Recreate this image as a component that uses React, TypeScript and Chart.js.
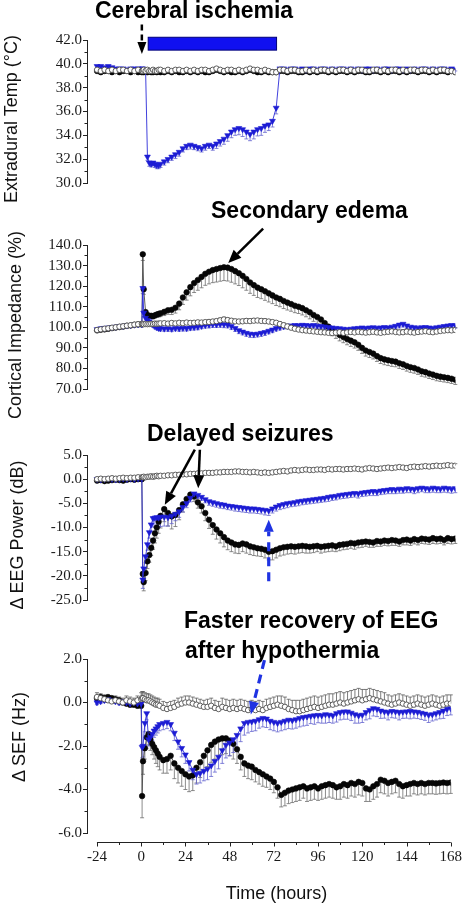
import React, { useEffect, useRef } from "react";
import { Chart, registerables } from "chart.js";

Chart.register(...registerables);

// ---------------- data ----------------
const hours = [
  -24, -22, -20, -18, -16, -14, -12, -10, -8, -6, -4, -2,
  0, 0.5, 1, 2, 3, 4, 5, 6, 7, 8, 9, 10,
  12, 14, 16, 18, 20, 22, 24, 26, 28, 30,
  32, 34, 36, 38, 40, 42, 44, 46, 48, 50,
  52, 54, 56, 58, 60, 62, 64, 66, 68, 70,
  72, 74, 76, 78, 80, 82, 84, 86, 88, 90,
  92, 94, 96, 98, 100, 102, 104, 106, 108, 110,
  112, 114, 116, 118, 120, 122, 124, 126, 128, 130,
  132, 134, 136, 138, 140, 142, 144, 146, 148, 150,
  152, 154, 156, 158, 160, 162, 164, 166, 168,
];

const timeTicks = [-24, 0, 24, 48, 72, 96, 120, 144, 168];
const tempTicks = [30, 32, 34, 36, 38, 40, 42];
const impTicks = [70, 80, 90, 100, 110, 120, 130, 140];
const eegTicks = [-25, -20, -15, -10, -5, 0, 5];
const sefTicks = [-6, -4, -2, 0, 2];

// Extradural temperature (°C)
const tempNormo = [
  39.4, 39.3, 39.4, 39.4, 39.3, 39.4, 39.3, 39.4, 39.4, 39.3, 39.4, 39.3,
  39.3, 39.4, 39.3, 39.4, 39.3, 39.4, 39.3, 39.3, 39.4, 39.3, 39.4, 39.3,
  39.3, 39.4, 39.3, 39.4, 39.3, 39.3, 39.4, 39.3, 39.4, 39.3,
  39.4, 39.3, 39.3, 39.4, 39.5, 39.4, 39.3, 39.4, 39.3, 39.3,
  39.4, 39.3, 39.4, 39.5, 39.4, 39.3, 39.3, 39.4, 39.3, 39.3,
  39.3, 39.4, 39.4, 39.3, 39.4, 39.4, 39.3, 39.3, 39.4, 39.3,
  39.4, 39.3, 39.4, 39.4, 39.3, 39.4, 39.3, 39.4, 39.4, 39.3,
  39.4, 39.3, 39.4, 39.4, 39.3, 39.3, 39.4, 39.4, 39.3, 39.4,
  39.3, 39.4, 39.4, 39.3, 39.4, 39.3, 39.4, 39.4, 39.3, 39.4,
  39.4, 39.3, 39.4, 39.3, 39.4, 39.4, 39.3, 39.4, 39.3,
];
const tempHypo = [
  39.8, 39.8, 39.7, 39.8, 39.7, 39.6, 39.6, 39.6, 39.5, 39.6, 39.6, 39.6,
  39.6, 39.6, 39.5, 39.5, 32.2, 31.7, 31.6, 31.7, 31.6, 31.5, 31.5, 31.6,
  31.8, 32.0, 32.2, 32.4, 32.6, 32.9, 33.1, 33.2, 33.1, 33.0,
  32.9, 33.1, 33.2, 33.1, 33.3, 33.5, 33.7, 34.0, 34.3, 34.5,
  34.6, 34.5, 34.3, 34.1, 34.3, 34.5, 34.6, 34.8, 34.9, 35.2,
  36.3, 39.6, 39.6, 39.5, 39.6, 39.6, 39.5, 39.6, 39.5, 39.6,
  39.6, 39.5, 39.6, 39.6, 39.5, 39.6, 39.5, 39.6, 39.6, 39.5,
  39.6, 39.5, 39.6, 39.5, 39.6, 39.6, 39.5, 39.6, 39.5, 39.6,
  39.6, 39.5, 39.6, 39.6, 39.5, 39.6, 39.5, 39.6, 39.5, 39.6,
  39.6, 39.5, 39.6, 39.5, 39.6, 39.6, 39.5, 39.6, 39.5,
];
const tempSham = [
  39.5, 39.4, 39.5, 39.4, 39.5, 39.4, 39.5, 39.5, 39.4, 39.5, 39.4, 39.5,
  39.4, 39.4, 39.5, 39.4, 39.5, 39.4, 39.4, 39.5, 39.4, 39.4, 39.5, 39.5,
  39.4, 39.5, 39.4, 39.5, 39.5, 39.4, 39.5, 39.4, 39.5, 39.4,
  39.5, 39.5, 39.4, 39.5, 39.6, 39.5, 39.4, 39.5, 39.5, 39.4,
  39.5, 39.4, 39.5, 39.6, 39.5, 39.5, 39.4, 39.5, 39.4, 39.3,
  39.3, 39.5, 39.5, 39.4, 39.5, 39.5, 39.4, 39.4, 39.5, 39.4,
  39.5, 39.4, 39.5, 39.5, 39.4, 39.5, 39.4, 39.5, 39.5, 39.4,
  39.5, 39.4, 39.5, 39.5, 39.4, 39.4, 39.5, 39.5, 39.4, 39.5,
  39.4, 39.5, 39.5, 39.4, 39.5, 39.4, 39.5, 39.5, 39.4, 39.5,
  39.5, 39.4, 39.5, 39.4, 39.5, 39.5, 39.4, 39.4, 39.3,
];
const tempHypoErr = [
  0.1, 0.1, 0.1, 0.1, 0.1, 0.1, 0.1, 0.1, 0.1, 0.1, 0.1, 0.1,
  0.1, 0.1, 0.1, 0.1, 0.3, 0.3, 0.25, 0.25, 0.3, 0.3, 0.3, 0.3,
  0.3, 0.3, 0.3, 0.35, 0.35, 0.3, 0.3, 0.35, 0.3, 0.3,
  0.3, 0.35, 0.3, 0.35, 0.4, 0.4, 0.45, 0.5, 0.5, 0.5,
  0.55, 0.6, 0.6, 0.55, 0.6, 0.55, 0.6, 0.55, 0.5, 0.5,
  0.5, 0.1, 0.1, 0.1, 0.1, 0.1, 0.1, 0.1, 0.1, 0.1,
  0.1, 0.1, 0.1, 0.1, 0.1, 0.1, 0.1, 0.1, 0.1, 0.1,
  0.1, 0.1, 0.1, 0.1, 0.1, 0.1, 0.1, 0.1, 0.1, 0.1,
  0.1, 0.1, 0.1, 0.1, 0.1, 0.1, 0.1, 0.1, 0.1, 0.1,
  0.1, 0.1, 0.1, 0.1, 0.1, 0.1, 0.1, 0.1, 0.1,
];

// Cortical impedance (%)
const impNormo = [
  98.5, 98.8, 99.0, 99.3, 99.6, 99.9, 100.1, 100.4, 100.7, 100.9, 101.2, 101.4,
  101.4, 135.5, 118.5, 107.4, 106.0, 105.5, 105.6, 105.4, 105.8, 106.2, 106.5, 106.8,
  107.5, 108.3, 108.5, 109.5, 111.5, 114.5, 117.0, 119.5, 121.5, 123.0,
  124.5, 126.0, 127.0, 127.8, 128.3, 128.8, 129.2, 129.0, 128.3, 127.3,
  126.3, 125.0, 123.5, 121.8, 120.5, 119.3, 118.5, 117.5, 116.5, 115.5,
  114.5, 113.8, 112.8, 112.0, 111.3, 110.5, 110.0, 109.3, 108.3, 107.3,
  106.0, 105.0, 103.8, 102.0, 100.3, 98.8, 97.5, 96.3, 95.3, 94.3,
  93.5, 92.7, 91.5, 90.0, 88.7, 88.0, 87.2, 86.0, 85.0, 84.4,
  84.0, 83.6, 83.3, 82.5, 82.0, 81.2, 80.6, 80.2, 79.5, 78.6,
  78.2, 77.5, 77.0, 76.4, 76.0, 75.7, 75.4, 75.0, 74.5,
];
const impHypo = [
  99.0, 99.4, 99.6, 99.8, 100.0, 100.2, 100.4, 100.6, 100.8, 101.0, 101.2, 101.4,
  101.4, 119.0, 107.0, 104.5, 103.5, 102.8, 102.0, 101.2, 100.5, 100.0, 99.6, 99.4,
  99.3, 99.4, 99.2, 99.5, 99.4, 99.6, 99.5, 99.8, 100.0, 100.2,
  100.6, 101.0, 101.2, 101.4, 101.3, 101.5, 101.4, 101.2, 100.5, 99.5,
  98.5, 97.8, 97.2, 96.8, 96.6, 96.8, 97.2, 97.6, 98.2, 98.8,
  99.5, 100.0, 100.4, 100.6, 100.8, 101.0, 100.9, 101.1, 101.0, 100.8,
  101.0, 100.7, 100.5, 100.3, 100.0, 99.8, 99.6, 99.4, 99.2, 99.0,
  99.2, 99.4, 99.6, 99.8, 99.6, 99.8, 99.9, 99.7, 99.8, 100.0,
  99.8, 100.2, 100.6, 101.2, 101.6, 100.8, 100.2, 99.9, 99.7, 99.9,
  100.0, 99.8, 99.6, 99.9, 100.2, 100.5, 100.8, 101.0, 100.9,
];
const impSham = [
  98.7, 99.0, 99.3, 99.5, 99.8, 100.0, 100.3, 100.5, 100.8, 101.0, 101.3, 101.5,
  101.7, 101.6, 101.5, 101.6, 101.5, 101.6, 101.7, 101.6, 101.8, 101.7, 101.8, 101.9,
  102.0, 101.8, 102.1, 101.9, 102.2, 102.0, 102.3, 102.1, 102.2, 102.4,
  102.3, 102.5, 102.6, 102.8, 103.0, 103.4, 103.8, 103.5, 103.2, 102.9,
  102.8, 102.9, 103.1, 103.0, 103.2, 103.3, 103.1, 103.0, 102.8, 102.5,
  102.2, 101.6, 101.0, 100.4, 99.8, 99.3, 98.9, 98.6, 98.4, 98.2,
  98.0, 97.8, 97.6, 97.5, 97.3, 97.2, 97.4, 97.6, 97.3, 97.5,
  97.7, 97.5, 97.8, 97.6, 97.4, 97.6, 97.8, 97.5, 97.3, 97.6,
  97.8, 98.0, 97.7, 97.5, 97.6, 97.9, 97.6, 97.4, 97.7, 97.9,
  98.1, 97.8, 97.6, 97.9, 98.2, 98.4, 98.6, 98.5, 98.7,
];
const impNormoErr = [
  0.8, 0.8, 0.8, 0.8, 0.8, 0.8, 0.8, 0.8, 0.8, 0.8, 0.8, 0.8,
  0.8, 3.0, 2.5, 1.5, 1.2, 1.2, 1.2, 1.3, 1.3, 1.4, 1.5, 1.6,
  1.8, 2.0, 2.3, 2.6, 3.0, 3.4, 3.8, 4.2, 4.6, 5.0,
  5.3, 5.6, 5.9, 6.1, 6.3, 6.4, 6.5, 6.5, 6.4, 6.2,
  6.0, 5.8, 5.5, 5.3, 5.0, 4.8, 4.6, 4.4, 4.2, 4.0,
  3.9, 3.8, 3.7, 3.6, 3.5, 3.4, 3.3, 3.3, 3.2, 3.2,
  3.1, 3.1, 3.0, 3.0, 3.0, 2.9, 2.9, 2.9, 2.8, 2.8,
  2.8, 2.8, 2.7, 2.7, 2.7, 2.7, 2.6, 2.6, 2.6, 2.6,
  2.6, 2.6, 2.5, 2.5, 2.5, 2.5, 2.5, 2.5, 2.4, 2.4,
  2.4, 2.4, 2.4, 2.4, 2.3, 2.3, 2.3, 2.3, 2.3,
];
const impHypoErr = [
  0.6, 0.6, 0.6, 0.6, 0.6, 0.6, 0.6, 0.6, 0.6, 0.6, 0.6, 0.6,
  0.6, 2.5, 2.0, 1.5, 1.2, 1.2, 1.2, 1.2, 1.2, 1.2, 1.2, 1.2,
  1.2, 1.3, 1.3, 1.2, 1.3, 1.4, 1.3, 1.2, 1.3, 1.4,
  1.3, 1.4, 1.5, 1.5, 1.4, 1.5, 1.6, 1.5, 1.6, 1.5,
  1.6, 1.5, 1.6, 1.7, 1.6, 1.5, 1.6, 1.5, 1.4, 1.4,
  1.3, 1.3, 1.2, 1.3, 1.2, 1.3, 1.2, 1.3, 1.2, 1.2,
  1.2, 1.3, 1.2, 1.2, 1.3, 1.2, 1.2, 1.3, 1.2, 1.2,
  1.3, 1.2, 1.2, 1.3, 1.2, 1.3, 1.2, 1.2, 1.3, 1.2,
  1.2, 1.3, 1.4, 1.5, 1.4, 1.3, 1.2, 1.3, 1.2, 1.3,
  1.2, 1.3, 1.2, 1.3, 1.2, 1.3, 1.2, 1.3, 1.3,
];
const impShamErr = [
  0.5, 0.5, 0.5, 0.5, 0.5, 0.5, 0.5, 0.5, 0.5, 0.5, 0.5, 0.5,
  0.6, 0.6, 0.6, 0.6, 0.6, 0.6, 0.6, 0.6, 0.6, 0.6, 0.6, 0.6,
  0.7, 0.7, 0.8, 0.7, 0.8, 0.8, 0.8, 0.9, 0.8, 0.9,
  0.9, 0.9, 1.0, 1.0, 1.0, 1.1, 1.1, 1.0, 1.0, 1.0,
  1.0, 1.0, 1.1, 1.0, 1.1, 1.0, 1.0, 1.0, 1.0, 1.0,
  1.0, 1.0, 1.1, 1.1, 1.0, 1.0, 1.1, 1.0, 1.0, 1.0,
  1.0, 1.1, 1.0, 1.0, 1.1, 1.0, 1.0, 1.1, 1.0, 1.0,
  1.1, 1.0, 1.1, 1.2, 1.1, 1.0, 1.1, 1.2, 1.1, 1.1,
  1.2, 1.1, 1.2, 1.1, 1.3, 1.2, 1.1, 1.2, 1.1, 1.2,
  1.1, 1.2, 1.1, 1.2, 1.1, 1.2, 1.1, 1.2, 1.1,
];

// Change in EEG power (dB)
const eegNormo = [
  -0.3, -0.2, -0.4, -0.3, -0.2, -0.1, -0.2, -0.3, -0.1, 0.0, -0.1, 0.0,
  0.0, -19.6, -21.3, -19.4, -17.0, -15.7, -14.2, -12.7, -11.2, -10.0, -8.8, -7.6,
  -6.2, -7.0, -7.7, -7.4, -6.4, -5.2, -4.1, -3.2, -3.6, -4.8,
  -5.6, -7.0, -8.4, -9.5, -10.4, -11.2, -12.0, -12.7, -13.1, -13.5,
  -13.6, -13.3, -13.5, -13.9, -14.1, -14.3, -14.4, -14.6, -15.0, -14.9,
  -14.6, -14.3, -14.1, -14.0, -13.9, -14.0, -13.9, -13.8, -13.9, -14.0,
  -13.9, -13.8, -14.0, -13.9, -13.8, -13.7, -13.9, -13.6, -13.5, -13.4,
  -13.2, -13.3, -13.1, -13.0, -12.9, -13.0, -13.1, -12.8, -12.9, -12.7,
  -12.8, -12.6, -12.7, -12.9, -12.6, -12.5, -12.7, -12.4, -12.6, -12.3,
  -12.4, -12.5, -12.2, -12.4, -12.3, -12.6, -12.2, -12.4, -12.3,
];
const eegHypo = [
  0.0, -0.1, 0.0, 0.1, 0.0, -0.1, 0.0, 0.1, 0.0, 0.1, 0.0, 0.1,
  0.1, -20.8, -18.5, -16.0, -13.5, -11.0, -9.4, -8.1, -8.0, -7.9, -8.0, -7.8,
  -7.8, -7.9, -7.6, -7.2, -6.7, -5.8, -5.0, -3.9, -3.0, -3.3,
  -3.7, -4.2, -4.6, -4.8, -5.0, -5.2, -5.3, -5.5, -5.6, -5.7,
  -5.8, -5.9, -6.0, -6.1, -6.1, -6.2, -6.3, -6.4, -6.5, -6.1,
  -5.7, -5.4, -5.2, -5.0, -4.9, -4.8, -4.6, -4.5, -4.4, -4.3,
  -4.2, -4.1, -4.0, -3.9, -3.7, -3.6, -3.5, -3.3, -3.2, -3.1,
  -3.0, -2.9, -3.0, -2.8, -2.7, -2.6, -2.5, -2.6, -2.4, -2.3,
  -2.2, -2.1, -2.2, -2.0, -2.1, -1.9, -2.0, -2.1, -1.9, -1.8,
  -1.9, -2.0, -1.8, -1.9, -2.0, -1.8, -1.9, -2.0, -1.9,
];
const eegSham = [
  0.0, 0.1, 0.0, 0.1, 0.2, 0.1, 0.2, 0.3, 0.2, 0.3, 0.3, 0.4,
  0.4, 0.4, 0.5, 0.4, 0.5, 0.5, 0.6, 0.5, 0.6, 0.7, 0.6, 0.7,
  0.7, 0.8, 0.8, 0.9, 0.9, 1.0, 1.0, 1.1, 1.1, 1.2,
  1.2, 1.3, 1.3, 1.3, 1.4, 1.4, 1.5, 1.5, 1.5, 1.6,
  1.6, 1.5, 1.5, 1.4, 1.5, 1.4, 1.3, 1.4, 1.3, 1.4,
  1.5, 1.6, 1.7, 1.6, 1.8, 1.9, 1.8, 1.9, 2.0, 1.9,
  1.9, 2.0, 2.0, 1.9, 2.1, 2.0, 2.1, 2.1, 2.0, 2.1,
  2.1, 2.2, 2.1, 2.0, 2.2, 2.3, 2.2, 2.1, 2.2, 2.3,
  2.4, 2.3, 2.4, 2.5, 2.4, 2.3, 2.5, 2.6, 2.5, 2.6,
  2.7, 2.6, 2.7, 2.8, 2.7, 2.8, 2.9, 2.8, 2.8,
];
const eegNormoErr = [
  0.3, 0.3, 0.3, 0.3, 0.3, 0.3, 0.3, 0.3, 0.3, 0.3, 0.3, 0.3,
  0.3, 1.5, 1.8, 1.6, 1.5, 1.5, 1.6, 1.8, 2.0, 2.2, 2.4, 2.5,
  2.6, 2.7, 2.6, 2.4, 2.0, 1.6, 1.2, 1.0, 1.0, 1.2,
  1.4, 1.6, 1.8, 1.9, 2.0, 2.0, 2.0, 1.9, 1.9, 1.8,
  1.8, 1.7, 1.8, 1.7, 1.7, 1.6, 1.6, 1.7, 1.7, 1.8,
  1.7, 1.6, 1.6, 1.5, 1.5, 1.5, 1.4, 1.4, 1.4, 1.3,
  1.3, 1.2, 1.3, 1.2, 1.2, 1.2, 1.1, 1.2, 1.1, 1.1,
  1.1, 1.2, 1.1, 1.1, 1.0, 1.1, 1.0, 1.1, 1.0, 1.0,
  1.0, 1.1, 1.0, 1.0, 1.0, 1.1, 1.0, 1.0, 1.0, 1.0,
  1.0, 1.0, 1.1, 1.0, 1.0, 1.0, 1.1, 1.0, 1.0,
];
const eegHypoErr = [
  0.3, 0.3, 0.3, 0.3, 0.3, 0.3, 0.3, 0.3, 0.3, 0.3, 0.3, 0.3,
  0.3, 1.8, 1.5, 1.3, 1.2, 1.2, 1.5, 1.8, 1.9, 2.0, 2.0, 2.0,
  1.9, 1.8, 1.6, 1.4, 1.2, 1.0, 0.9, 0.8, 0.7, 0.7,
  0.7, 0.7, 0.8, 0.8, 0.8, 0.8, 0.8, 0.8, 0.8, 0.9,
  0.9, 0.9, 0.9, 0.9, 0.9, 0.9, 0.9, 1.0, 1.0, 0.9,
  0.9, 0.9, 0.9, 0.9, 0.8, 0.8, 0.9, 0.8, 0.8, 0.8,
  0.8, 0.8, 0.8, 0.8, 0.9, 0.8, 0.8, 0.8, 0.8, 0.8,
  0.8, 0.8, 0.9, 0.8, 0.8, 0.8, 0.9, 0.8, 0.8, 0.8,
  0.8, 0.9, 0.8, 0.9, 0.8, 0.9, 0.8, 0.9, 0.9, 0.8,
  0.9, 0.8, 0.9, 0.9, 0.8, 0.9, 0.9, 0.9, 0.9,
];
const eegShamErr = [
  0.3, 0.3, 0.3, 0.3, 0.3, 0.3, 0.3, 0.3, 0.3, 0.3, 0.3, 0.3,
  0.3, 0.3, 0.3, 0.3, 0.3, 0.3, 0.3, 0.3, 0.3, 0.3, 0.3, 0.3,
  0.3, 0.3, 0.3, 0.3, 0.3, 0.3, 0.3, 0.3, 0.3, 0.3,
  0.3, 0.3, 0.3, 0.3, 0.3, 0.3, 0.3, 0.3, 0.3, 0.3,
  0.3, 0.3, 0.3, 0.3, 0.3, 0.3, 0.3, 0.3, 0.3, 0.3,
  0.3, 0.3, 0.4, 0.3, 0.3, 0.4, 0.3, 0.3, 0.4, 0.3,
  0.4, 0.3, 0.3, 0.4, 0.3, 0.4, 0.3, 0.4, 0.3, 0.4,
  0.3, 0.4, 0.4, 0.3, 0.4, 0.3, 0.4, 0.4, 0.3, 0.4,
  0.4, 0.3, 0.4, 0.4, 0.3, 0.4, 0.4, 0.3, 0.4, 0.4,
  0.4, 0.3, 0.4, 0.4, 0.3, 0.4, 0.4, 0.3, 0.4,
];

// Change in spectral edge frequency (Hz)
const sefNormo = [
  0.2, 0.25, 0.2, 0.25, 0.2, 0.15, 0.1, 0.0, -0.05, -0.1, -0.1, -0.15,
  -0.15, -4.3, -2.7, -2.1, -1.6, -1.45, -1.7, -1.9, -2.05, -2.2, -2.35, -2.5,
  -2.65, -2.6, -2.45, -2.8, -3.0, -3.15, -3.3, -3.4, -3.35, -3.0,
  -2.75, -2.45, -2.2, -1.95, -1.8, -1.7, -1.65, -1.65, -1.75, -1.9,
  -2.15, -2.5, -2.8, -2.9, -2.95, -3.1, -3.2, -3.3, -3.4, -3.5,
  -3.65, -3.9, -4.25, -4.15, -4.05, -4.0, -3.95, -3.9, -3.85, -3.95,
  -3.9, -3.85, -3.95, -3.85, -3.8, -3.75, -3.8, -3.9, -3.85, -3.75,
  -3.8, -3.7, -3.75, -3.65, -3.7, -3.95, -4.0, -3.85, -3.75, -3.55,
  -3.6, -3.7, -3.65, -3.6, -3.75, -3.85, -3.8, -3.75, -3.7, -3.75,
  -3.7, -3.75, -3.7, -3.7, -3.72, -3.7, -3.68, -3.7, -3.68,
];
const sefHypo = [
  0.0, 0.05, 0.1, 0.15, 0.1, 0.05, 0.0, 0.05, 0.0, -0.05, 0.0, -0.05,
  -0.05, -2.05, -2.0, -0.95, -0.5, -1.7, -1.6, -1.45, -1.3, -1.2, -1.1, -1.0,
  -0.95, -0.9, -1.0, -1.4, -1.8, -2.1, -2.4, -2.75, -3.1, -3.3,
  -3.25, -3.15, -3.05, -2.9, -2.7, -2.5, -2.2, -1.95, -1.85, -1.7,
  -1.5, -1.2, -0.95, -0.9, -0.88, -0.85, -0.78, -0.72, -0.75, -0.85,
  -0.9, -0.95, -0.9, -0.85, -0.8, -0.82, -0.78, -0.72, -0.68, -0.65,
  -0.62, -0.6, -0.58, -0.6, -0.55, -0.57, -0.6, -0.5, -0.45, -0.42,
  -0.42, -0.48, -0.55, -0.6, -0.57, -0.45, -0.35, -0.27, -0.3, -0.38,
  -0.42, -0.45, -0.4, -0.42, -0.45, -0.43, -0.42, -0.4, -0.42, -0.44,
  -0.48, -0.52, -0.57, -0.55, -0.5, -0.45, -0.38, -0.3, -0.27,
];
const sefSham = [
  0.25, 0.2, 0.15, 0.1, 0.05, 0.1, 0.05, 0.0, 0.1, 0.05, 0.0, 0.1,
  0.15, 0.2, 0.2, 0.15, 0.1, 0.1, 0.05, 0.0, -0.05, -0.1, -0.1, -0.15,
  -0.25, -0.3, -0.25, -0.2, -0.1, -0.05, 0.0, 0.0, -0.05, -0.1,
  -0.15, -0.2, -0.2, -0.15, -0.25, -0.3, -0.2, -0.25, -0.3, -0.25,
  -0.3, -0.25, -0.3, -0.35, -0.3, -0.35, -0.3, -0.35, -0.25, -0.2,
  -0.15, -0.1, -0.15, -0.2, -0.3, -0.35, -0.4, -0.4, -0.35, -0.3,
  -0.25, -0.2, -0.25, -0.2, -0.15, -0.1, -0.1, -0.05, 0.0, -0.05,
  0.0, 0.05, 0.1, 0.15, 0.1, 0.15, 0.2, 0.15, 0.1, 0.05,
  0.0, -0.05, -0.1, -0.05, 0.0, -0.05, -0.1, -0.15, -0.1, -0.05,
  -0.1, -0.15, -0.1, -0.05, -0.1, -0.15, -0.1, -0.05, -0.05,
];
const sefNormoErr = [
  0.1, 0.1, 0.1, 0.1, 0.1, 0.1, 0.1, 0.1, 0.1, 0.1, 0.1, 0.1,
  0.1, 1.0, 0.6, 0.5, 0.5, 0.5, 0.5, 0.5, 0.55, 0.6, 0.6, 0.6,
  0.6, 0.65, 0.65, 0.7, 0.7, 0.7, 0.7, 0.7, 0.7, 0.7,
  0.7, 0.7, 0.75, 0.8, 0.8, 0.8, 0.75, 0.7, 0.7, 0.7,
  0.65, 0.6, 0.6, 0.6, 0.6, 0.55, 0.55, 0.55, 0.5, 0.5,
  0.5, 0.5, 0.55, 0.6, 0.6, 0.6, 0.6, 0.6, 0.55, 0.6,
  0.6, 0.6, 0.55, 0.6, 0.6, 0.6, 0.6, 0.55, 0.6, 0.6,
  0.6, 0.6, 0.6, 0.6, 0.6, 0.6, 0.55, 0.6, 0.6, 0.6,
  0.6, 0.6, 0.55, 0.55, 0.6, 0.55, 0.5, 0.55, 0.5, 0.5,
  0.5, 0.5, 0.5, 0.5, 0.5, 0.5, 0.5, 0.5, 0.5,
];
const sefHypoErr = [
  0.1, 0.1, 0.1, 0.1, 0.1, 0.1, 0.1, 0.1, 0.1, 0.1, 0.1, 0.1,
  0.1, 0.5, 0.5, 0.4, 0.3, 0.3, 0.3, 0.3, 0.3, 0.3, 0.3, 0.3,
  0.3, 0.3, 0.3, 0.35, 0.35, 0.4, 0.4, 0.4, 0.45, 0.45,
  0.45, 0.45, 0.5, 0.5, 0.5, 0.55, 0.6, 0.6, 0.6, 0.6,
  0.6, 0.6, 0.55, 0.5, 0.45, 0.45, 0.4, 0.4, 0.4, 0.4,
  0.4, 0.4, 0.4, 0.4, 0.4, 0.4, 0.4, 0.4, 0.4, 0.4,
  0.35, 0.4, 0.35, 0.35, 0.4, 0.35, 0.35, 0.4, 0.35, 0.35,
  0.35, 0.35, 0.4, 0.35, 0.35, 0.35, 0.4, 0.35, 0.35, 0.35,
  0.3, 0.35, 0.3, 0.3, 0.35, 0.3, 0.3, 0.35, 0.3, 0.3,
  0.3, 0.3, 0.35, 0.3, 0.3, 0.3, 0.35, 0.3, 0.3,
];
const sefShamErr = [
  0.2, 0.2, 0.2, 0.2, 0.2, 0.2, 0.2, 0.2, 0.2, 0.2, 0.2, 0.2,
  0.3, 0.3, 0.3, 0.3, 0.3, 0.3, 0.3, 0.3, 0.3, 0.3, 0.3, 0.3,
  0.3, 0.3, 0.3, 0.3, 0.3, 0.3, 0.3, 0.3, 0.3, 0.3,
  0.3, 0.3, 0.35, 0.35, 0.35, 0.35, 0.4, 0.4, 0.4, 0.4,
  0.4, 0.4, 0.4, 0.4, 0.4, 0.4, 0.4, 0.4, 0.4, 0.4,
  0.4, 0.4, 0.45, 0.45, 0.45, 0.45, 0.5, 0.5, 0.5, 0.5,
  0.5, 0.5, 0.5, 0.5, 0.5, 0.5, 0.5, 0.5, 0.5, 0.5,
  0.5, 0.5, 0.5, 0.5, 0.5, 0.45, 0.45, 0.45, 0.45, 0.45,
  0.45, 0.4, 0.4, 0.4, 0.4, 0.4, 0.4, 0.4, 0.4, 0.4,
  0.4, 0.4, 0.4, 0.4, 0.4, 0.4, 0.4, 0.4, 0.4,
];

// ---------------- layout / style ----------------
const W = 468;
const H = 905;
const X_MIN = -29.4; // y axis sits a little left of the first sample (offset axis)
const X_MAX = 168;
const PLOT_RIGHT = 455.3;
const Y_AXIS_W = 87;
const SERIF = '"Liberation Serif", "Times New Roman", serif';
const SANS = '"Liberation Sans", Arial, sans-serif';

type Kind = "normo" | "hypo" | "sham";
const STYLE: Record<Kind, any> = {
  normo: {
    pointStyle: "circle", pointRadius: 2.8, pointRotation: 0,
    pointBackgroundColor: "#060606", pointBorderColor: "#060606", pointBorderWidth: 0.6,
    borderColor: "#4a4a4a", borderWidth: 0.9, errColor: "#6e6e6e", errDir: -1, order: 3,
  },
  hypo: {
    pointStyle: "triangle", pointRadius: 3.4, pointRotation: 180,
    pointBackgroundColor: "#1c1cd4", pointBorderColor: "#1c1cd4", pointBorderWidth: 0.6,
    borderColor: "#2b2bd8", borderWidth: 0.9, errColor: "#6464cf", errDir: -1, order: 2,
  },
  sham: {
    pointStyle: "circle", pointRadius: 2.7, pointRotation: 0,
    pointBackgroundColor: "#ffffff", pointBorderColor: "#4d4d4d", pointBorderWidth: 0.9,
    borderColor: "#8a8a8a", borderWidth: 0.6, errColor: "#5a5a5a", errDir: 1, order: 1,
  },
};

type Series = { label: string; kind: Kind; values: number[]; errs: number[] | null };
type Panel = {
  top: number; bottom: number; yMin: number; yMax: number; yTicks: number[];
  showX: boolean; series: Series[];
  annotate: (ctx: CanvasRenderingContext2D, x: any, y: any) => void;
};

function arrow(
  ctx: CanvasRenderingContext2D, x1: number, y1: number, x2: number, y2: number,
  o: { color: string; width: number; dash?: number[]; headLen: number; headW: number }
) {
  const a = Math.atan2(y2 - y1, x2 - x1);
  const bx = x2 - o.headLen * Math.cos(a);
  const by = y2 - o.headLen * Math.sin(a);
  ctx.save();
  ctx.strokeStyle = o.color;
  ctx.lineWidth = o.width;
  ctx.setLineDash(o.dash || []);
  ctx.beginPath();
  ctx.moveTo(x1, y1);
  ctx.lineTo(bx, by);
  ctx.stroke();
  ctx.setLineDash([]);
  ctx.fillStyle = o.color;
  ctx.beginPath();
  ctx.moveTo(x2, y2);
  ctx.lineTo(bx + (o.headW / 2) * Math.sin(a), by - (o.headW / 2) * Math.cos(a));
  ctx.lineTo(bx - (o.headW / 2) * Math.sin(a), by + (o.headW / 2) * Math.cos(a));
  ctx.closePath();
  ctx.fill();
  ctx.restore();
}

const BLUE_ARROW = "#1f33e2";

const PANELS: Panel[] = [
  {
    top: 40, bottom: 213, yMin: 30, yMax: 42, yTicks: tempTicks, showX: false,
    series: [
      { label: "Normothermia", kind: "normo", values: tempNormo, errs: null },
      { label: "Hypothermia", kind: "hypo", values: tempHypo, errs: tempHypoErr },
      { label: "Sham", kind: "sham", values: tempSham, errs: null },
    ],
    annotate: (ctx, x, y) => {
      const x1 = x.getPixelForValue(3.4), x2 = x.getPixelForValue(72.2);
      const y1 = y.getPixelForValue(42.23), y2 = y.getPixelForValue(41.15);
      ctx.save();
      ctx.fillStyle = "#1010f0";
      ctx.fillRect(x1, y1, x2 - x1, y2 - y1);
      ctx.strokeStyle = "#00007a";
      ctx.lineWidth = 1;
      ctx.strokeRect(x1, y1, x2 - x1, y2 - y1);
      ctx.restore();
      arrow(ctx, x.getPixelForValue(0), y.getPixelForValue(43.3), x.getPixelForValue(0), y.getPixelForValue(40.82),
        { color: "#000", width: 2.5, dash: [6, 4], headLen: 12, headW: 9 });
    },
  },
  {
    top: 245, bottom: 419, yMin: 70, yMax: 140, yTicks: impTicks, showX: false,
    series: [
      { label: "Normothermia", kind: "normo", values: impNormo, errs: impNormoErr },
      { label: "Hypothermia", kind: "hypo", values: impHypo, errs: impHypoErr },
      { label: "Sham", kind: "sham", values: impSham, errs: impShamErr },
    ],
    annotate: (ctx, x, y) => {
      arrow(ctx, x.getPixelForValue(65), y.getPixelForValue(148), x.getPixelForValue(46.3), y.getPixelForValue(131.3),
        { color: "#000", width: 2.5, headLen: 13, headW: 11 });
    },
  },
  {
    top: 455, bottom: 630, yMin: -25, yMax: 5, yTicks: eegTicks, showX: false,
    series: [
      { label: "Normothermia", kind: "normo", values: eegNormo, errs: eegNormoErr },
      { label: "Hypothermia", kind: "hypo", values: eegHypo, errs: eegHypoErr },
      { label: "Sham", kind: "sham", values: eegSham, errs: eegShamErr },
    ],
    annotate: (ctx, x, y) => {
      arrow(ctx, x.getPixelForValue(28.4), y.getPixelForValue(6.1), x.getPixelForValue(12.3), y.getPixelForValue(-5.3),
        { color: "#000", width: 2.5, headLen: 13, headW: 11 });
      arrow(ctx, x.getPixelForValue(31.1), y.getPixelForValue(6.1), x.getPixelForValue(30.2), y.getPixelForValue(-1.9),
        { color: "#000", width: 2.5, headLen: 13, headW: 11 });
      arrow(ctx, x.getPixelForValue(68), y.getPixelForValue(-21.1), x.getPixelForValue(68), y.getPixelForValue(-8.4),
        { color: BLUE_ARROW, width: 3.2, dash: [9, 6], headLen: 12, headW: 10 });
    },
  },
  {
    top: 659, bottom: 833, yMin: -6, yMax: 2, yTicks: sefTicks, showX: true,
    series: [
      { label: "Normothermia", kind: "normo", values: sefNormo, errs: sefNormoErr },
      { label: "Hypothermia", kind: "hypo", values: sefHypo, errs: sefHypoErr },
      { label: "Sham", kind: "sham", values: sefSham, errs: sefShamErr },
    ],
    annotate: (ctx, x, y) => {
      arrow(ctx, x.getPixelForValue(66.9), y.getPixelForValue(1.95), x.getPixelForValue(59.5), y.getPixelForValue(-0.55),
        { color: BLUE_ARROW, width: 3.2, dash: [9, 6], headLen: 13, headW: 10 });
    },
  },
];

const errorBarPlugin = {
  id: "errorBars",
  beforeDatasetsDraw(chart: any) {
    const ctx = chart.ctx as CanvasRenderingContext2D;
    const xs = chart.scales.x, ys = chart.scales.y;
    const list = [...chart.data.datasets].sort((a: any, b: any) => b.order - a.order);
    list.forEach((ds: any) => {
      if (!ds.errs) return;
      ctx.save();
      ctx.strokeStyle = ds.errColor;
      ctx.lineWidth = 0.8;
      ctx.beginPath();
      ds.data.forEach((pt: any, i: number) => {
        const e = ds.errs[i];
        if (e == null || pt.y == null) return;
        const px = xs.getPixelForValue(pt.x);
        const py = ys.getPixelForValue(pt.y);
        const pe = ys.getPixelForValue(pt.y + ds.errDir * e);
        ctx.moveTo(px, py);
        ctx.lineTo(px, pe);
        ctx.moveTo(px - 2, pe);
        ctx.lineTo(px + 2, pe);
      });
      ctx.stroke();
      ctx.restore();
    });
  },
};

function decorPlugin(panel: Panel) {
  return {
    id: "decor",
    afterDraw(chart: any) {
      const ctx = chart.ctx as CanvasRenderingContext2D;
      const xs = chart.scales.x, ys = chart.scales.y;
      const left = chart.chartArea.left;
      ctx.save();
      ctx.strokeStyle = "#222";
      ctx.lineWidth = 1;
      ctx.beginPath();
      // minor y ticks
      for (let i = 0; i < panel.yTicks.length - 1; i++) {
        const v = (panel.yTicks[i] + panel.yTicks[i + 1]) / 2;
        const py = Math.round(ys.getPixelForValue(v)) + 0.5;
        ctx.moveTo(left - 2.5, py);
        ctx.lineTo(left, py);
      }
      if (panel.showX) {
        const ay = Math.round(chart.chartArea.bottom + 9) + 0.5;
        const x0 = xs.getPixelForValue(timeTicks[0]);
        const x1 = xs.getPixelForValue(timeTicks[timeTicks.length - 1]);
        ctx.moveTo(x0, ay);
        ctx.lineTo(x1, ay);
        timeTicks.forEach((t, i) => {
          const px = Math.round(xs.getPixelForValue(t)) + 0.5;
          ctx.moveTo(px, ay);
          ctx.lineTo(px, ay + 4);
          if (i < timeTicks.length - 1) {
            const pm = Math.round(xs.getPixelForValue((t + timeTicks[i + 1]) / 2)) + 0.5;
            ctx.moveTo(pm, ay);
            ctx.lineTo(pm, ay + 2.5);
          }
        });
      }
      ctx.stroke();
      ctx.restore();
      panel.annotate(ctx, xs, ys);
    },
  };
}

function makeConfig(panel: Panel): any {
  const datasets = panel.series.map((s) => {
    const st = STYLE[s.kind];
    return {
      label: s.label,
      data: hours.map((h, i) => ({ x: h, y: s.values[i] })),
      errs: s.errs,
      errColor: st.errColor,
      errDir: st.errDir,
      pointStyle: st.pointStyle,
      pointRadius: st.pointRadius,
      pointRotation: st.pointRotation,
      pointBackgroundColor: st.pointBackgroundColor,
      pointBorderColor: st.pointBorderColor,
      pointBorderWidth: st.pointBorderWidth,
      borderColor: st.borderColor,
      borderWidth: st.borderWidth,
      fill: false,
      tension: 0,
      order: st.order,
    };
  });
  const tickFont = { family: SERIF, size: 15 };
  return {
    type: "line",
    data: { datasets },
    options: {
      responsive: false,
      maintainAspectRatio: false,
      animation: false,
      events: [],
      layout: {
        padding: {
          top: panel.top,
          bottom: panel.showX ? H - panel.bottom - 30 : H - panel.bottom,
          left: 0,
          right: W - PLOT_RIGHT,
        },
      },
      plugins: { legend: { display: false }, tooltip: { enabled: false }, title: { display: false } },
      scales: {
        x: {
          type: "linear",
          min: X_MIN,
          max: X_MAX,
          display: panel.showX,
          afterBuildTicks: (s: any) => { s.ticks = timeTicks.map((v) => ({ value: v })); },
          afterFit: (s: any) => { s.height = 30; },
          border: { display: false },
          grid: { display: true, drawOnChartArea: false, drawTicks: true, tickLength: 9, color: "rgba(0,0,0,0)" },
          ticks: { font: tickFont, color: "#1a1a1a", padding: 6, autoSkip: false, maxRotation: 0, callback: (v: any) => String(v) },
        },
        y: {
          type: "linear",
          position: "left",
          min: panel.yMin,
          max: panel.yMax,
          afterBuildTicks: (s: any) => { s.ticks = panel.yTicks.map((v) => ({ value: v })); },
          afterFit: (s: any) => { s.width = Y_AXIS_W; },
          border: { display: true, color: "#222", width: 1 },
          grid: { display: true, drawOnChartArea: false, drawTicks: true, tickLength: 4, color: "#222", lineWidth: 1 },
          ticks: { font: tickFont, color: "#1a1a1a", padding: 1, autoSkip: false, callback: (v: any) => Number(v).toFixed(1) },
        },
      },
    },
    plugins: [errorBarPlugin, decorPlugin(panel)],
  };
}

const NOTES = [
  { text: "Cerebral ischemia", left: 95, top: -1 },
  { text: "Secondary edema", left: 211, top: 199 },
  { text: "Delayed seizures", left: 147, top: 422 },
  { text: "Faster recovery of EEG", left: 184, top: 609 },
  { text: "after hypothermia", left: 185, top: 639 },
];

const Y_TITLES = [
  { text: "Extradural Temp (°C)", cx: 11, cy: 118.5 },
  { text: "Cortical Impedance (%)", cx: 14.5, cy: 325 },
  { text: "Δ EEG Power (dB)", cx: 17, cy: 535 },
  { text: "Δ SEF (Hz)", cx: 19, cy: 737 },
];

export default function App() {
  const canvases = useRef<(HTMLCanvasElement | null)[]>([]);

  useEffect(() => {
    const charts = PANELS.map((p, i) => new Chart(canvases.current[i] as HTMLCanvasElement, makeConfig(p)));
    return () => charts.forEach((c) => c.destroy());
  }, []);

  return (
    <div style={{ position: "absolute", left: 0, top: 0, width: W, height: H, overflow: "hidden", background: "#fff" }}>
      {PANELS.map((_, i) => (
        <canvas
          key={i}
          ref={(el) => { canvases.current[i] = el; }}
          width={W}
          height={H}
          style={{ position: "absolute", left: 0, top: 0, width: W, height: H }}
        />
      ))}
      {NOTES.map((n) => (
        <div
          key={n.text}
          style={{
            position: "absolute", left: n.left, top: n.top, fontFamily: SANS, fontWeight: 700,
            fontSize: 23, lineHeight: "23px", color: "#000", whiteSpace: "nowrap",
          }}
        >
          {n.text}
        </div>
      ))}
      {Y_TITLES.map((t) => (
        <div
          key={t.text}
          style={{
            position: "absolute", left: t.cx, top: t.cy, transform: "translate(-50%, -50%) rotate(-90deg)",
            fontFamily: SANS, fontSize: 18, lineHeight: "20px", color: "#111", whiteSpace: "nowrap",
          }}
        >
          {t.text}
        </div>
      ))}
      <div
        style={{
          position: "absolute", left: 276.5, top: 884, transform: "translateX(-50%)",
          fontFamily: SANS, fontSize: 18, lineHeight: "18px", color: "#111", whiteSpace: "nowrap",
        }}
      >
        Time (hours)
      </div>
    </div>
  );
}
